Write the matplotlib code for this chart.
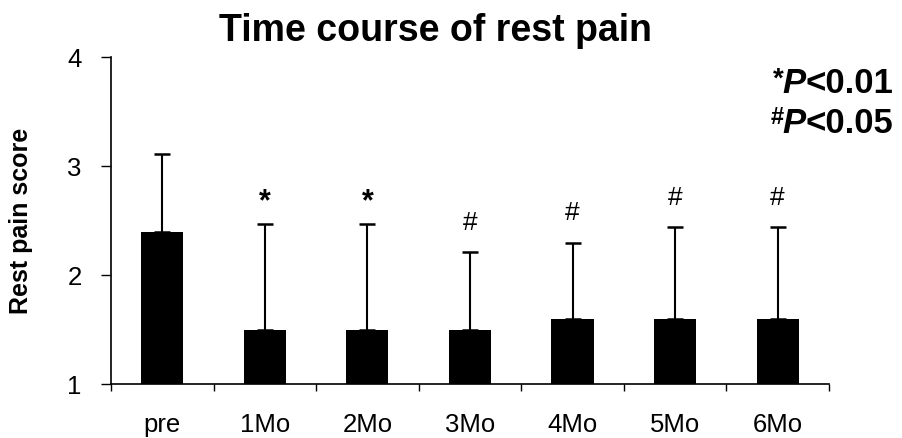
import numpy as np
import matplotlib
matplotlib.use("Agg")
import matplotlib.pyplot as plt

# values
categories = ["pre", "1Mo", "2Mo", "3Mo", "4Mo", "5Mo", "6Mo"]
means = [2.40, 1.50, 1.50, 1.50, 1.60, 1.60, 1.60]
sd = [0.71, 0.97, 0.97, 0.71, 0.70, 0.84, 0.84]
marks = ["", "*", "*", "#", "#", "#", "#"]
legend_rows = [("*", "<0.01"), ("#", "<0.05")]

plt.rcParams["font.family"] = ["Liberation Sans", "DejaVu Sans"]

fig = plt.figure(figsize=(9.02, 4.38), dpi=100)
ax = fig.add_axes([0.123, 0.123, 0.796, 0.746])

x = np.arange(len(categories))
ax.bar(x, np.array(means) - 1, bottom=1, width=0.41, color="black",
       linewidth=0, zorder=2)
ax.errorbar(x, means, yerr=[np.zeros(len(sd)), sd], fmt="none", ecolor="black",
            elinewidth=1.5, capsize=5.5, capthick=1.8, zorder=1)

for xi, m, s, mk in zip(x, means, sd, marks):
    if not mk:
        continue
    if mk == "*":
        kw = dict(fontsize=22, fontweight="bold")
        off = 16
    else:
        kw = dict(fontsize=19)
        off = 21
    ax.annotate(mk, (xi, m + s), xytext=(0, off), textcoords="offset points",
                ha="center", va="center", **kw)

ax.set_xlim(-0.5, len(categories) - 0.5)
ax.set_ylim(1, 4)
ax.set_yticks([1, 2, 3, 4])
ax.set_xticks(np.arange(-0.5, len(categories), 1))
ax.set_xticklabels([])
ax.set_xticks(x, minor=True)
ax.set_xticklabels(categories, minor=True, fontsize=18.5)
ax.tick_params(axis="x", which="major", length=5, width=1, direction="out")
ax.tick_params(axis="x", which="minor", length=0, pad=21)
ax.tick_params(axis="y", length=7, width=1, pad=14, labelsize=18.5)

for side in ["top", "right"]:
    ax.spines[side].set_visible(False)
for side in ["left", "bottom"]:
    ax.spines[side].set_linewidth(1.2)

ax.set_ylabel("Rest pain score", fontsize=18, fontweight="bold")
ax.yaxis.set_label_coords(-0.108, 0.5)

fig.text(0.483, 0.906, "Time course of rest pain", ha="center", va="baseline",
         fontsize=27, fontweight="bold")

# legend text built from pieces: superscript symbol, italic P, rest
renderer = fig.canvas.get_renderer()
W, H = fig.bbox.width, fig.bbox.height
right = 893 / W
size = 25
cap = 0.716 * size * 100 / 72 / H
for (sym, rest), ybase in zip(legend_rows, [1 - 93 / 438, 1 - 133 / 438]):
    t = fig.text(right, ybase, rest, ha="right", va="baseline",
                 fontsize=size, fontweight="bold")
    xr = right - t.get_window_extent(renderer).width / W
    p = fig.text(xr, ybase, "P", ha="right", va="baseline", fontsize=size,
                 fontweight="bold", fontstyle="italic")
    xr -= p.get_window_extent(renderer).width / W
    ssize = 20 if sym == "*" else 17
    fig.text(xr + 0.002, ybase + cap + 0.004, sym, ha="right", va="top",
             fontsize=ssize, fontweight="bold")

fig.savefig("out.png", dpi=100)
